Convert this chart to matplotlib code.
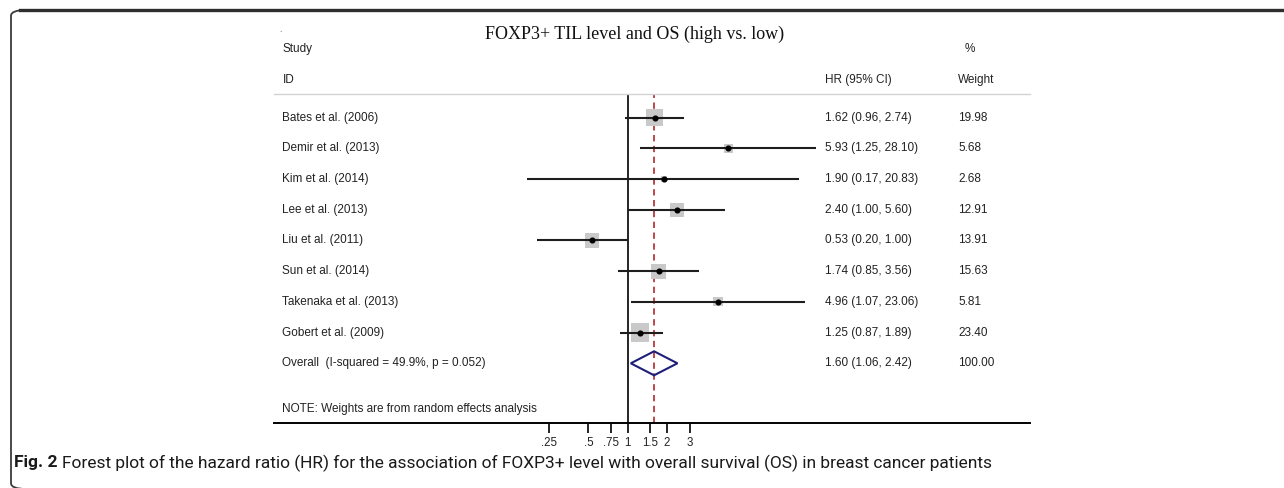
import matplotlib.pyplot as plt
import numpy as np
from matplotlib import transforms
from matplotlib.patches import FancyBboxPatch, Polygon
from matplotlib.ticker import NullLocator
from matplotlib import font_manager

studies = ["Bates et al. (2006)", "Demir et al. (2013)", "Kim et al. (2014)",
           "Lee et al. (2013)", "Liu et al. (2011)", "Sun et al. (2014)",
           "Takenaka et al. (2013)", "Gobert et al. (2009)"]
hr = [1.62, 5.93, 1.90, 2.40, 0.53, 1.74, 4.96, 1.25]
ci_lo = [0.96, 1.25, 0.17, 1.00, 0.20, 0.85, 1.07, 0.87]
ci_hi = [2.74, 28.10, 20.83, 5.60, 1.00, 3.56, 23.06, 1.89]
weights = [19.98, 5.68, 2.68, 12.91, 13.91, 15.63, 5.81, 23.40]

overall_label = "Overall  (I-squared = 49.9%, p = 0.052)"
overall_hr = 1.60
overall_lo = 1.06
overall_hi = 2.42
overall_weight = 100.00

tick_vals = [0.25, 0.5, 0.75, 1, 1.5, 2, 3]
tick_labels = [".25", ".5", ".75", "1", "1.5", "2", "3"]

title = "FOXP3+ TIL level and OS (high vs. low)"
note = "NOTE: Weights are from random effects analysis"
caption_bold = "Fig. 2"
caption = ("Forest plot of the hazard ratio (HR) for the association of FOXP3+ level "
           "with overall survival (OS) in breast cancer patients")

W, H = 1284, 488
SANS = "Liberation Sans"
SERIF = "Liberation Serif"
installed = {f.name for f in font_manager.fontManager.ttflist}
CAP_FONT = "Liberation Sans Narrow" if "Liberation Sans Narrow" in installed else "Roboto"


def fx(px):
    return px / W


def fy(py):
    return 1 - py / H


fig = plt.figure(figsize=(W / 100, H / 100), dpi=100)

# page frame (rounded left side, heavy top rule)
frame = FancyBboxPatch((fx(11), fy(489)), fx(1400) - fx(11), fy(10) - fy(489),
                       boxstyle="round,pad=0,rounding_size=0.012",
                       transform=fig.transFigure, fill=False,
                       edgecolor="#3a3a3a", lw=1.3)
fig.patches.append(frame)
fig.add_artist(plt.Line2D([fx(20), 1], [fy(10), fy(10)], transform=fig.transFigure,
                          color="#2e2e2e", lw=2.4))

# forest axes: log scale, null line at px 627.5, 56.5 px per ln unit
left_px, right_px, top_px, bot_px = 274, 1030, 94, 423
null_px, per_ln = 627.5, 56.5
row0_px, row_h = 117.7, 30.7

ax = fig.add_axes([fx(left_px), fy(bot_px), fx(right_px - left_px), (bot_px - top_px) / H])
ax.set_xscale("log")
ax.set_xlim(np.exp((left_px - null_px) / per_ln), np.exp((right_px - null_px) / per_ln))
ax.set_ylim((bot_px - row0_px) / row_h, -(row0_px - top_px) / row_h)

rows = np.arange(len(studies))

ax.axvline(1, color="black", lw=1.2, zorder=1)
ax.axvline(overall_hr, color="#b8383a", lw=1.3, ls=(0, (3.5, 2.5)), zorder=1)

side_pt = 3.78 * 0.72 * np.sqrt(weights)
ax.scatter(hr, rows, marker="s", s=side_pt ** 2, color="#c9c9c9", linewidths=0, zorder=2)
ax.hlines(rows, ci_lo, ci_hi, color="#1e1e1e", lw=1.5, zorder=3)
ax.plot(hr, rows, "o", ms=3.4, color="black", zorder=4)

yo = len(studies)
dh = 12 / row_h
diamond = Polygon([(overall_lo, yo), (overall_hr, yo - dh), (overall_hi, yo), (overall_hr, yo + dh)],
                  closed=True, fill=False, edgecolor="#1f1f7a", lw=1.5, zorder=5)
ax.add_patch(diamond)

for s in ["left", "right"]:
    ax.spines[s].set_visible(False)
ax.spines["top"].set_color("#d2d2d2")
ax.spines["top"].set_linewidth(1.0)
ax.spines["bottom"].set_linewidth(1.4)
ax.set_yticks([])
ax.set_xticks(tick_vals)
ax.set_xticklabels(tick_labels)
ax.xaxis.set_minor_locator(NullLocator())
ax.tick_params(axis="x", length=7, width=1.2, labelsize=8.3, pad=3, colors="black")
for lab in ax.get_xticklabels():
    lab.set_family(SANS)
    lab.set_color("#222222")

# table text
tr = transforms.blended_transform_factory(fig.transFigure, ax.transData)
txt = dict(family=SANS, size=8.5, color="#222222", va="center", transform=tr)
col_study, col_hr, col_w = fx(282.5), fx(825), fx(958)
for i, name in enumerate(studies):
    ax.text(col_study, i, name, **txt)
    ax.text(col_hr, i, f"{hr[i]:.2f} ({ci_lo[i]:.2f}, {ci_hi[i]:.2f})", **txt)
    ax.text(col_w, i, f"{weights[i]:.2f}", **txt)
ax.text(col_study, yo, overall_label, **txt)
ax.text(col_hr, yo, f"{overall_hr:.2f} ({overall_lo:.2f}, {overall_hi:.2f})", **txt)
ax.text(col_w, yo, f"{overall_weight:.2f}", **txt)
ax.text(col_study, (409 - row0_px) / row_h, note, **txt)

hdr = dict(family=SANS, size=8.5, color="#222222", va="center")
fig.text(col_study, fy(49), "Study", **hdr)
fig.text(col_study, fy(80), "ID", **hdr)
fig.text(col_hr, fy(80), "HR (95% CI)", **hdr)
fig.text(fx(965), fy(49), "%", **hdr)
fig.text(col_w, fy(80), "Weight", **hdr)
fig.text(fx(279), fy(30), ".", family=SANS, size=6, color="#444444", va="center")
fig.text(fx(635), fy(34), title, family=SERIF, size=13, color="#111111",
         ha="center", va="center")

# caption, sized to span the same width as the original
cap_y = fy(463)
renderer = fig.canvas.get_renderer()
t_bold = fig.text(fx(14), cap_y, caption_bold, family=CAP_FONT, weight="bold",
                  size=13, color="#1a1a1a", va="center")
t_rest = fig.text(fx(72), cap_y, caption, family=CAP_FONT, size=13,
                  color="#1a1a1a", va="center")
bb = t_rest.get_window_extent(renderer)
scale = (1008 - 72) / bb.width
t_rest.set_size(13 * scale)
t_bold.set_size(13 * scale)
bb_b = t_bold.get_window_extent(renderer)
t_rest.set_x(fx(bb_b.x1 + 5))

fig.savefig("out.png", dpi=100)
